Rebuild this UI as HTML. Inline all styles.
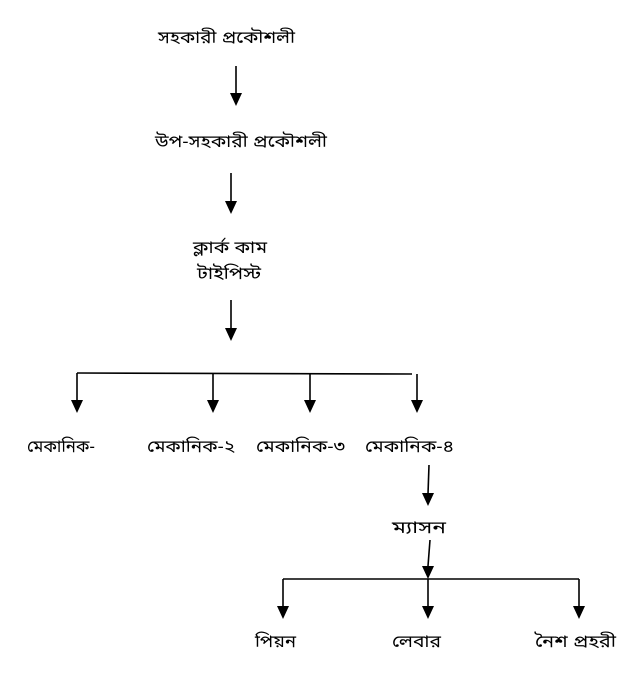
<!DOCTYPE html>
<html><head><meta charset="utf-8"><style>
html,body{margin:0;padding:0;background:#fff;width:641px;height:673px;overflow:hidden}
text{font-family:"Liberation Sans","Noto Sans Bengali","Lohit Bengali",sans-serif;font-size:17px;fill:#000}
</style></head><body>
<svg width="641" height="673" viewBox="0 0 641 673" xmlns="http://www.w3.org/2000/svg">
<defs><marker id="a" markerWidth="12" markerHeight="14" refX="6" refY="13" orient="auto" markerUnits="userSpaceOnUse"><path d="M0,0 L12,0 L6,13 Z" fill="#000" transform="rotate(-90 6 6.5) translate(0 0)"/></marker></defs>
<g stroke="#000" stroke-width="1.6" fill="none">
<line x1="236" y1="66" x2="236" y2="94"/>
<line x1="231" y1="173" x2="231" y2="202"/>
<line x1="231" y1="300" x2="231" y2="329"/>
<line x1="77" y1="373" x2="412" y2="374"/>
<line x1="77" y1="373" x2="77" y2="401"/>
<line x1="213" y1="373" x2="213" y2="401"/>
<line x1="310" y1="373" x2="310" y2="401"/>
<line x1="417" y1="374" x2="417" y2="401"/>
<line x1="429" y1="465" x2="428" y2="494"/>
<line x1="430" y1="540" x2="428" y2="566"/>
<line x1="283" y1="579" x2="579" y2="579"/>
<line x1="283" y1="579" x2="283" y2="607"/>
<line x1="428" y1="579" x2="428" y2="607"/>
<line x1="579" y1="579" x2="579" y2="607"/>
</g>
<g fill="#000">
<path d="M230,93 h12 l-6,13 z"/>
<path d="M225,201 h12 l-6,13 z"/>
<path d="M225,328 h12 l-6,13 z"/>
<path d="M71,400 h12 l-6,13 z"/>
<path d="M207,400 h12 l-6,13 z"/>
<path d="M304,400 h12 l-6,13 z"/>
<path d="M411,400 h12 l-6,13 z"/>
<path d="M422,493 h12 l-6,13 z"/>
<path d="M422,566 h12 l-6,13 z"/>
<path d="M277,606 h12 l-6,13 z"/>
<path d="M422,606 h12 l-6,13 z"/>
<path d="M573,606 h12 l-6,13 z"/>
</g>
<text x="158" y="43" textLength="137" lengthAdjust="spacingAndGlyphs">সহকারী  প্রকৌশলী</text>
<text x="155" y="147" textLength="172" lengthAdjust="spacingAndGlyphs">উপ-সহকারী প্রকৌশলী</text>
<text x="193" y="253" textLength="74" lengthAdjust="spacingAndGlyphs">ক্লার্ক কাম</text>
<text x="197" y="279" textLength="64" lengthAdjust="spacingAndGlyphs">টাইপিস্ট</text>
<text x="27" y="452" textLength="68" lengthAdjust="spacingAndGlyphs">মেকানিক-</text>
<text x="147" y="452" textLength="88" lengthAdjust="spacingAndGlyphs">মেকানিক-২</text>
<text x="256" y="452" textLength="89" lengthAdjust="spacingAndGlyphs">মেকানিক-৩</text>
<text x="365" y="452" textLength="89" lengthAdjust="spacingAndGlyphs">মেকানিক-৪</text>
<text x="392" y="533" textLength="54" lengthAdjust="spacingAndGlyphs">ম্যাসন</text>
<text x="255" y="647" textLength="41" lengthAdjust="spacingAndGlyphs">পিয়ন</text>
<text x="392" y="647" textLength="49" lengthAdjust="spacingAndGlyphs">লেবার</text>
<text x="535" y="647" textLength="81" lengthAdjust="spacingAndGlyphs">নৈশ প্রহরী</text>
</svg>
</body></html>
